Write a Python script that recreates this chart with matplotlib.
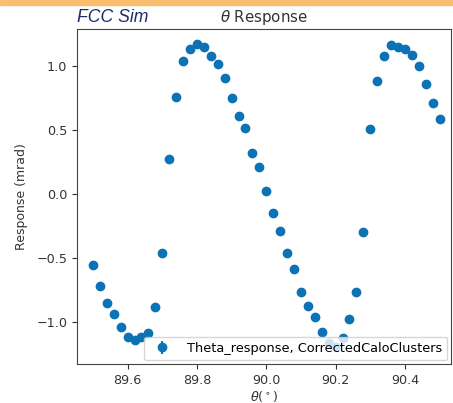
"""
Theta response vs theta for CorrectedCaloClusters (FCC Sim slide).
"""

import numpy as np
import matplotlib
matplotlib.use("Agg")
import matplotlib.pyplot as plt

# theta grid, degrees (step 0.02)
theta = [89.50, 89.52, 89.54, 89.56, 89.58, 89.60, 89.62, 89.64, 89.66, 89.68,
         89.70, 89.72, 89.74, 89.76, 89.78, 89.80, 89.82, 89.84, 89.86, 89.88,
         89.90, 89.92, 89.94, 89.96, 89.98, 90.00, 90.02, 90.04, 90.06, 90.08,
         90.10, 90.12, 90.14, 90.16, 90.18, 90.20, 90.22, 90.24, 90.26, 90.28,
         90.30, 90.32, 90.34, 90.36, 90.38, 90.40, 90.42, 90.44, 90.46, 90.48,
         90.50]

# response, mrad
response = [-0.555, -0.72, -0.85, -0.935, -1.04, -1.115, -1.14, -1.115, -1.085, -0.88,
            -0.455, 0.277, 0.76, 1.04, 1.135, 1.17, 1.15, 1.08, 1.017, 0.908,
            0.752, 0.612, 0.518, 0.322, 0.213, 0.026, -0.146, -0.287, -0.46, -0.583,
            -0.763, -0.873, -0.959, -1.076, -1.162, -1.19, -1.123, -0.974, -0.763, -0.295,
            0.51, 0.885, 1.08, 1.166, 1.15, 1.135, 1.088, 1.002, 0.861, 0.713,
            0.588]

# statistical errors are tiny compared to the markers
response_err = [0.004] * len(theta)

x_ticks = [89.6, 89.8, 90.0, 90.2, 90.4]
y_ticks = [-1.0, -0.5, 0.0, 0.5, 1.0]

label = "Theta_response, CorrectedCaloClusters"

plt.rcParams["font.family"] = ["DejaVu Sans"]
plt.rcParams["font.size"] = 9

fig = plt.figure(figsize=(4.53, 4.03), dpi=100)
ax = fig.add_axes([77 / 453, 39 / 403, 374 / 453, 335 / 403])

ax.errorbar(theta, response, yerr=response_err, fmt="o", color="#0b72b5",
            markersize=6, label=label)

ax.set_xlim(89.454, 90.533)
ax.set_ylim(-1.326, 1.291)
ax.set_xticks(x_ticks)
ax.set_yticks(y_ticks)
ax.tick_params(colors="#333333", labelsize=9.2)
for sp in ax.spines.values():
    sp.set_color("#444444")

ax.set_xlabel(r"$\theta(^\circ)$", fontsize=9.2, color="#333333", labelpad=2)
ax.set_ylabel("Response (mrad)", fontsize=9, color="#333333", labelpad=6)
ax.set_title(r"$\theta$ Response", fontsize=10.8, color="#333333", pad=5)
ax.legend(loc="lower right", fontsize=9.3, borderaxespad=0.3, handletextpad=0.9)

# slide decorations: orange header strip and the "FCC Sim" tag
fig.patches.append(plt.Rectangle((0, 1 - 5 / 403), 1, 5 / 403, transform=fig.transFigure,
                                 color="#fbbd6e", zorder=0))
fig.text(77 / 453, 1 - 17 / 403, "FCC Sim", fontsize=12.7, style="italic",
         family="Liberation Sans", color="#1c2d6b", va="center", ha="left")

fig.savefig("out.png", dpi=100)
plt.close(fig)
